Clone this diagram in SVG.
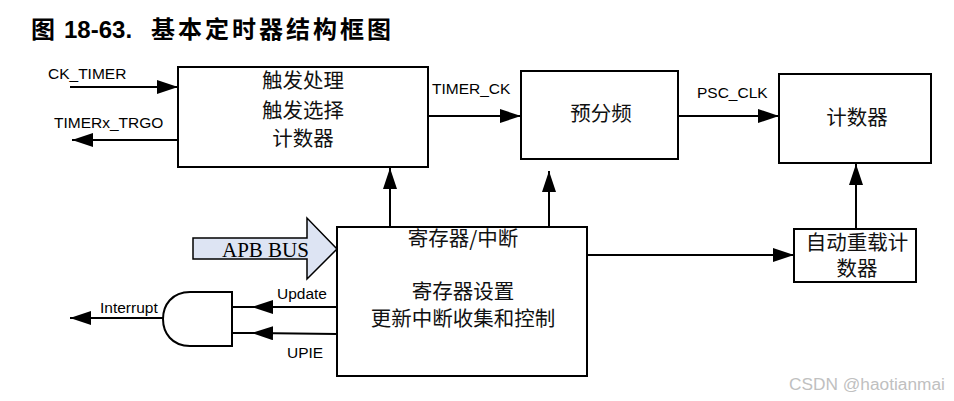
<svg xmlns="http://www.w3.org/2000/svg" width="954" height="401" viewBox="0 0 954 401">
<defs>
<style>
.box{fill:#fff;stroke:#000;stroke-width:2}
.ln{fill:none;stroke:#000;stroke-width:2}
.cn{font-family:"Noto Sans CJK SC","Noto Sans",sans-serif;font-size:20.5px;fill:#111;text-anchor:middle}
.lb{font-family:"Liberation Sans",Arial,sans-serif;font-size:15.5px;fill:#000}
</style>
<marker id="ah" markerUnits="userSpaceOnUse" markerWidth="22" markerHeight="14" refX="21" refY="7" orient="auto">
<path d="M0,0 L21,7 L0,14 Z" fill="#000"/>
</marker>
</defs>
<rect width="954" height="401" fill="#fff"/>
<text y="38" font-size="24" font-weight="bold" fill="#000" font-family="Liberation Sans,'Noto Sans CJK SC',sans-serif"><tspan x="31" font-family="'Noto Sans CJK SC',sans-serif">图</tspan><tspan x="64">18-63.</tspan><tspan x="151" font-family="'Noto Sans CJK SC',sans-serif" textLength="240" lengthAdjust="spacing">基本定时器结构框图</tspan></text>

<g id="connectors">
<line class="ln" x1="70" y1="87" x2="178" y2="87" marker-end="url(#ah)"/>
<line class="ln" x1="178" y1="140" x2="72" y2="140" marker-end="url(#ah)"/>
<line class="ln" x1="428" y1="116" x2="521" y2="116" marker-end="url(#ah)"/>
<line class="ln" x1="678" y1="116" x2="779" y2="116" marker-end="url(#ah)"/>
<line class="ln" x1="390" y1="227" x2="390" y2="168" marker-end="url(#ah)"/>
<line class="ln" x1="549" y1="227" x2="549" y2="171" marker-end="url(#ah)"/>
<line class="ln" x1="856" y1="229" x2="856" y2="164" marker-end="url(#ah)"/>
<line class="ln" x1="587" y1="255" x2="794" y2="255" marker-end="url(#ah)"/>
<line class="ln" x1="337" y1="307" x2="252" y2="307" marker-end="url(#ah)"/>
<line class="ln" x1="252" y1="307" x2="232" y2="307"/>
<line class="ln" x1="337" y1="334" x2="252" y2="333" marker-end="url(#ah)"/>
<line class="ln" x1="252" y1="333" x2="232" y2="333"/>
<line class="ln" x1="163" y1="318" x2="70" y2="318" marker-end="url(#ah)"/>
<text class="lb" x="48" y="79">CK_TIMER</text>
<text class="lb" x="54" y="128">TIMERx_TRGO</text>
<text class="lb" x="432" y="94">TIMER_CK</text>
<text class="lb" x="697" y="98">PSC_CLK</text>
<text class="lb" x="277" y="299">Update</text>
<text class="lb" x="287" y="358">UPIE</text>
<text class="lb" x="100" y="313">Interrupt</text>
</g>

<g id="trigger">
<rect class="box" x="178" y="67" width="250" height="100"/>
<text class="cn" x="303" y="88">触发处理</text>
<text class="cn" x="303" y="118">触发选择</text>
<text class="cn" x="303" y="146">计数器</text>
</g>

<g id="prescaler">
<rect class="box" x="521" y="71" width="157" height="88"/>
<text class="cn" x="601" y="121">预分频</text>
</g>

<g id="counter">
<rect class="box" x="779" y="74" width="152" height="89"/>
<text class="cn" x="857" y="125">计数器</text>
</g>

<g id="autoreload">
<rect class="box" x="794" y="229" width="122" height="53"/>
<text class="cn" x="857" y="250">自动重载计</text>
<text class="cn" x="857" y="276">数器</text>
</g>

<g id="registers">
<rect class="box" x="337" y="227" width="250" height="149"/>
<text class="cn" x="463" y="246">寄存器/中断</text>
<text class="cn" x="463" y="299">寄存器设置</text>
<text class="cn" x="463" y="326">更新中断收集和控制</text>
</g>

<g id="apb">
<path d="M193,238 H307 V218 L337,249 L307,279 V259 H193 Z" fill="#dde4f3" stroke="#000" stroke-width="1.5"/>
<text x="222" y="257" font-family="'Liberation Serif','Times New Roman',serif" font-size="21" fill="#000">APB BUS</text>
</g>

<g id="andgate">
<path class="box" d="M232,292 L190,292 C172,292 163,305 163,319 C163,333 172,346 190,346 L232,346 Z"/>
</g>

<text x="789" y="390" font-family="'Liberation Sans',Arial,sans-serif" font-size="17.3" fill="#c0c0c0">CSDN @haotianmai</text>
</svg>
